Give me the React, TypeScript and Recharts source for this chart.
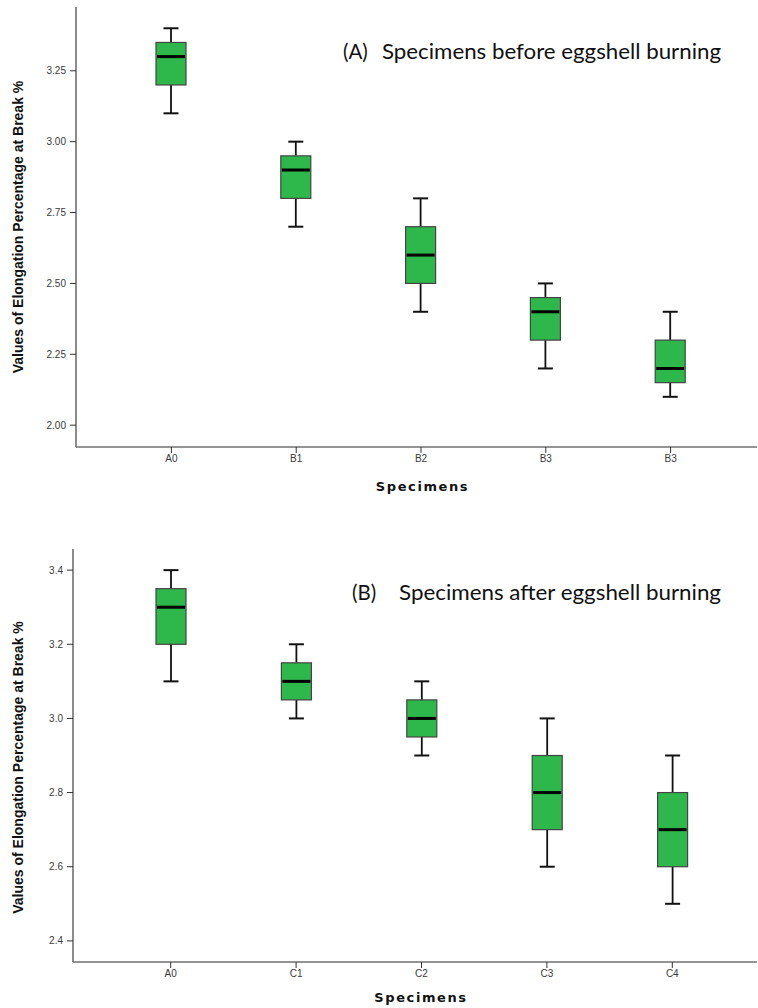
import { ComposedChart, Bar, XAxis, YAxis } from 'recharts';

// Panel (A): specimens before eggshell burning
const specimensA = ['A0', 'B1', 'B2', 'B3', 'B3'];
const minA = [3.1, 2.7, 2.4, 2.2, 2.1];
const q1A = [3.2, 2.8, 2.5, 2.3, 2.15];
const medianA = [3.3, 2.9, 2.6, 2.4, 2.2];
const q3A = [3.35, 2.95, 2.7, 2.45, 2.3];
const maxA = [3.4, 3.0, 2.8, 2.5, 2.4];
const ticksA = [2.0, 2.25, 2.5, 2.75, 3.0, 3.25];

// Panel (B): specimens after eggshell burning
const specimensB = ['A0', 'C1', 'C2', 'C3', 'C4'];
const minB = [3.1, 3.0, 2.9, 2.6, 2.5];
const q1B = [3.2, 3.05, 2.95, 2.7, 2.6];
const medianB = [3.3, 3.1, 3.0, 2.8, 2.7];
const q3B = [3.35, 3.15, 3.05, 2.9, 2.8];
const maxB = [3.4, 3.2, 3.1, 3.0, 2.9];
const ticksB = [2.4, 2.6, 2.8, 3.0, 3.2, 3.4];

const Y_LABEL = 'Values of Elongation Percentage at Break %';
const BOX_FILL = '#2eb84b';
const FRAME = '#707070';
const TICK_FONT = { fontSize: 10, fill: '#3a3a3a', fontFamily: "'Liberation Sans', Arial, sans-serif" };

function buildRows(names: string[], min: number[], q1: number[], med: number[], q3: number[], max: number[]) {
  return names.map((name, i) => ({
    name,
    range: [min[i], max[i]],
    min: min[i],
    q1: q1[i],
    median: med[i],
    q3: q3[i],
    max: max[i],
  }));
}

// range bar gives us pixel positions of min/max; everything else is mapped linearly between them
function BoxShape(props: any) {
  const { x, y, width, height, payload } = props;
  if (!payload) return null;
  const { min, q1, median, q3, max } = payload;
  const top = Math.min(y, y + height);
  const bottom = Math.max(y, y + height);
  const toY = (v: number) => top + ((max - v) / (max - min)) * (bottom - top);
  const cx = x + width / 2;
  const cap = width / 4;
  return (
    <g>
      <line x1={cx} x2={cx} y1={toY(max)} y2={toY(q3)} stroke="#111" strokeWidth={1.8} />
      <line x1={cx} x2={cx} y1={toY(q1)} y2={toY(min)} stroke="#111" strokeWidth={1.8} />
      <line x1={cx - cap} x2={cx + cap} y1={toY(max)} y2={toY(max)} stroke="#111" strokeWidth={2} />
      <line x1={cx - cap} x2={cx + cap} y1={toY(min)} y2={toY(min)} stroke="#111" strokeWidth={2} />
      <rect x={x} y={toY(q3)} width={width} height={toY(q1) - toY(q3)} fill={BOX_FILL} stroke="#444" strokeWidth={1.2} />
      <line x1={x + 1} x2={x + width - 1} y1={toY(median)} y2={toY(median)} stroke="#000" strokeWidth={3} />
    </g>
  );
}

function YTitle({ viewBox, shift }: any) {
  const cy = viewBox.y + viewBox.height / 2 + shift;
  return (
    <text
      x={18}
      y={cy}
      transform={`rotate(-90, 18, ${cy})`}
      textAnchor="middle"
      dominantBaseline="central"
      fontFamily="'Liberation Sans', Arial, sans-serif"
      fontWeight="bold"
      fontSize={14}
      fill="#111"
    >
      {Y_LABEL}
    </text>
  );
}

function XTitle({ viewBox, dy }: any) {
  return (
    <text
      x={viewBox.x + viewBox.width / 2 + 6}
      y={viewBox.y + dy}
      textAnchor="middle"
      dominantBaseline="central"
      fontFamily="'DejaVu Sans', Verdana, sans-serif"
      fontWeight="bold"
      fontSize={13}
      letterSpacing={1.6}
      fill="#111"
    >
      Specimens
    </text>
  );
}

interface PanelProps {
  rows: any[];
  domain: [number, number];
  ticks: number[];
  digits: number;
  height: number;
  margin: { top: number; right: number; left: number; bottom: number };
  yWidth: number;
  xHeight: number;
  padding: { left: number; right: number };
  titleDy: number;
  yShift: number;
}

function BoxPanel({ rows, domain, ticks, digits, height, margin, yWidth, xHeight, padding, titleDy, yShift }: PanelProps) {
  return (
    <ComposedChart width={758} height={height} data={rows} margin={margin}>
      <XAxis
        dataKey="name"
        padding={padding}
        height={xHeight}
        axisLine={{ stroke: FRAME, strokeWidth: 1.6 }}
        tickLine={{ stroke: '#333' }}
        tickSize={6}
        tick={TICK_FONT}
        interval={0}
        label={<XTitle dy={titleDy} />}
      />
      <XAxis
        xAxisId="top"
        dataKey="name"
        orientation="top"
        height={0}
        tick={false}
        tickLine={false}
        axisLine={{ stroke: FRAME, strokeWidth: 1.6 }}
      />
      <YAxis
        type="number"
        domain={domain}
        allowDataOverflow
        ticks={ticks}
        width={yWidth}
        tickFormatter={(v: number) => v.toFixed(digits)}
        axisLine={{ stroke: FRAME, strokeWidth: 1.6 }}
        tickLine={{ stroke: '#333' }}
        tickSize={6}
        tickMargin={4}
        tick={TICK_FONT}
        label={<YTitle shift={yShift} />}
      />
      <Bar dataKey="range" barSize={30} isAnimationActive={false} shape={BoxShape} />
    </ComposedChart>
  );
}

const NOTE_FONT = "Lato, 'Open Sans', sans-serif";

function Note({ tag, tagX, text, textX, textEnd, baseline }: any) {
  return (
    <>
      <text x={tagX} y={baseline} fontFamily={NOTE_FONT} fontSize={20.5} fill="#111">
        {tag}
      </text>
      <text
        x={textX}
        y={baseline}
        fontFamily={NOTE_FONT}
        fontSize={20.5}
        fill="#111"
        textLength={textEnd - textX}
        lengthAdjust="spacingAndGlyphs"
      >
        {text}
      </text>
    </>
  );
}

export default function App() {
  const rowsA = buildRows(specimensA, minA, q1A, medianA, q3A, maxA);
  const rowsB = buildRows(specimensB, minB, q1B, medianB, q3B, maxB);
  return (
    <div style={{ position: 'absolute', left: 0, top: 0, width: 758, height: 1008, overflow: 'hidden', background: '#fff' }}>
      <div style={{ position: 'absolute', left: 0, top: 0 }}>
        <BoxPanel
          rows={rowsA}
          domain={[1.923, 3.475]}
          ticks={ticksA}
          digits={2}
          height={500}
          margin={{ top: 7, right: 1, left: 0, bottom: 0 }}
          yWidth={76}
          xHeight={53}
          padding={{ left: 33, right: 24 }}
          titleDy={39}
          yShift={0}
        />
      </div>
      <div style={{ position: 'absolute', left: 0, top: 500 }}>
        <BoxPanel
          rows={rowsB}
          domain={[2.343, 3.457]}
          ticks={ticksB}
          digits={1}
          height={508}
          margin={{ top: 49, right: 1, left: 0, bottom: 0 }}
          yWidth={73}
          xHeight={46}
          padding={{ left: 35, right: 22 }}
          titleDy={35}
          yShift={12}
        />
      </div>
      <svg width={758} height={1008} style={{ position: 'absolute', left: 0, top: 0, pointerEvents: 'none' }}>
        <Note tag="(A)" tagX={343} text="Specimens before eggshell burning" textX={382} textEnd={721} baseline={59} />
        <Note tag="(B)" tagX={352} text="Specimens after eggshell burning" textX={399} textEnd={721} baseline={600} />
      </svg>
    </div>
  );
}
